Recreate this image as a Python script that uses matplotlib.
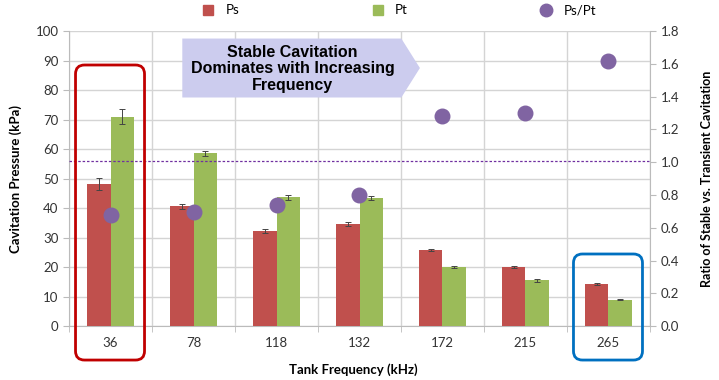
import numpy as np
import matplotlib
matplotlib.use("Agg")
import matplotlib.pyplot as plt
from matplotlib.patches import FancyBboxPatch, Polygon
from matplotlib.lines import Line2D

RED, GREEN, PURPLE, GRID = "#C0504D", "#9BBB59", "#8064A2", "#D4D4D4"
plt.rcParams.update({"font.family": ["Lato", "DejaVu Sans"], "font.size": 9})

freqs = ["36", "78", "118", "132", "172", "215", "265"]
ps = [48.3, 40.6, 32.2, 34.6, 25.7, 20.0, 14.3]
ps_err = [2.0, 0.8, 0.6, 0.6, 0.3, 0.3, 0.4]
pt = [71.0, 58.6, 43.7, 43.4, 20.0, 15.5, 8.9]
pt_err = [2.5, 0.8, 0.8, 0.8, 0.4, 0.5, 0.2]
ratio = [0.68, 0.695, 0.74, 0.80, 1.28, 1.30, 1.62]
ratio_ref = 1.01

fig = plt.figure(figsize=(7.19, 3.8), dpi=100)
ax = fig.add_axes([0.096, 0.142, 0.808, 0.776])
x = np.arange(len(freqs))
w = 0.28
ax.bar(x - w / 2, ps, w, color=RED, zorder=3)
ax.bar(x + w / 2, pt, w, color=GREEN, zorder=3)
ax.errorbar(x - w / 2, ps, yerr=ps_err, fmt="none", ecolor="#444444", elinewidth=0.7, capsize=2, capthick=0.7, zorder=4)
ax.errorbar(x + w / 2, pt, yerr=pt_err, fmt="none", ecolor="#444444", elinewidth=0.7, capsize=2, capthick=0.7, zorder=4)
ax.set_xlim(-0.5, len(freqs) - 0.5)
ax.set_ylim(0, 100)
ax.set_yticks(range(0, 101, 10))
ax.set_xticks(x)
ax.set_xticklabels(freqs)
ax.set_xticks(np.arange(-0.5, len(freqs), 1), minor=True)
ax.grid(True, axis="y", color=GRID, lw=1, zorder=0)
ax.grid(True, axis="x", which="minor", color=GRID, lw=1, zorder=0)
ax.tick_params(axis="x", which="major", length=0, pad=8, labelsize=9.5, colors="#333333")
ax.tick_params(axis="x", which="minor", length=4, color="#BBBBBB")
ax.tick_params(axis="y", length=4, color="#BBBBBB", labelsize=9.5, labelcolor="#333333")
for s in ("top", "right"):
    ax.spines[s].set_visible(False)
for s in ("left", "bottom"):
    ax.spines[s].set_color("#BBBBBB")
ax.set_ylabel("Cavitation Pressure (kPa)", fontweight="bold", fontsize=9.5, labelpad=10)
ax.set_xlabel("Tank Frequency (kHz)", fontweight="bold", fontsize=9.5)
ax.xaxis.set_label_coords(0.49, -0.125)

ax2 = ax.twinx()
ax2.scatter(x, ratio, s=110, color=PURPLE, zorder=5)
ax2.axhline(ratio_ref, color="#7030A0", ls=(0, (2, 1.5)), lw=0.9, zorder=2)
ax2.set_ylim(0, 1.8)
ax2.set_yticks(np.arange(0, 1.81, 0.2))
ax2.yaxis.set_major_formatter(matplotlib.ticker.FormatStrFormatter("%.1f"))
ax2.tick_params(axis="y", length=4, color="#BBBBBB", labelsize=9.5, labelcolor="#333333")
for s in ("top", "left", "bottom"):
    ax2.spines[s].set_visible(False)
ax2.spines["right"].set_color("#BBBBBB")
ax2.set_ylabel("Ratio of Stable vs. Transient Cavitation", fontweight="bold", fontsize=9, labelpad=16)

# highlight boxes (display pixels from data positions)
fig.canvas.draw()
def box(i, top_px, color):
    cx, _ = ax.transData.transform((i, 0))
    _, y0 = ax.transData.transform((0, 0))
    x0, x1 = cx - 35, cx + 34
    yb = y0 - 34
    p = FancyBboxPatch((x0, yb), x1 - x0, top_px - yb, boxstyle="round,pad=0,rounding_size=9",
                       transform=None, fill=False, ec=color, lw=2, clip_on=False, zorder=6)
    fig.patches.append(p)
box(0, 380 - 65, "#C00000")
box(6, 380 - 254, "#0070C0")

# arrow banner
arrow = Polygon([(0.195, 0.975), (0.572, 0.975), (0.604, 0.875), (0.572, 0.775), (0.195, 0.775)],
                closed=True, transform=ax.transAxes, fc="#CCCCEE", ec="none", zorder=7)
ax.add_patch(arrow)
ax.text(0.385, 0.872, "Stable Cavitation\nDominates with Increasing\nFrequency", transform=ax.transAxes,
        ha="center", va="center", fontsize=11.5, fontweight="bold", family="Liberation Sans",
        linespacing=1.15, zorder=8)

handles = [Line2D([], [], marker="s", ls="", color=RED, markersize=7),
           Line2D([], [], marker="s", ls="", color=GREEN, markersize=7),
           Line2D([], [], marker="o", ls="", color=PURPLE, markersize=9)]
fig.legend(handles, ["Ps", "Pt", "Ps/Pt"], loc="upper center", bbox_to_anchor=(0.55, 1.02), ncol=3,
           frameon=False, columnspacing=9.5, handletextpad=0.3, fontsize=9.5)

fig.savefig("out.png", dpi=100)
